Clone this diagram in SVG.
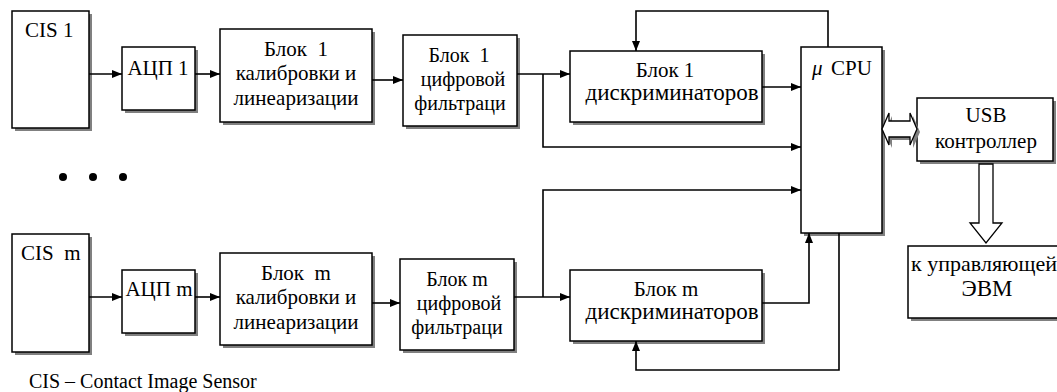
<svg xmlns="http://www.w3.org/2000/svg" width="1057" height="392" viewBox="0 0 1057 392">
<defs>
<style>
.box{fill:#fff;stroke:#000;stroke-width:1.5}
.sh{fill:#808080;stroke:none}
.t{font-family:'Liberation Serif','DejaVu Serif',serif;font-size:21px;fill:#000;white-space:pre}
.c{text-anchor:middle}
.s20{font-size:20px}
.s22{font-size:22px}
.s23{font-size:23px}
.ar{fill:none;stroke:#000;stroke-width:1.6;marker-end:url(#ah)}
.hol{fill:#fff;stroke:#000;stroke-width:1.3}
</style>
<marker id="ah" viewBox="0 0 10 8" refX="10" refY="4" markerWidth="10" markerHeight="8" markerUnits="userSpaceOnUse" orient="auto">
<path d="M0,0 L10,4 L0,8 z" fill="#000"/>
</marker>
</defs>
<rect width="1057" height="392" fill="#fff"/>
<g font-family="Liberation Serif, serif">
<g id="cis1"><rect class="sh" x="15" y="14" width="77" height="117"/><rect class="box" x="12" y="11" width="77" height="117"/><text class="t" x="25" y="37">CIS 1</text></g>
<g id="adc1"><rect class="sh" x="125" y="50" width="73" height="63"/><rect class="box" x="122" y="47" width="73" height="63"/><text class="t c" x="158" y="75">АЦП 1</text></g>
<g id="calib1"><rect class="sh" x="223" y="32" width="152" height="93"/><rect class="box" x="220" y="29" width="152" height="93"/><text class="t c" x="296" y="56">Блок  1</text><text class="t c" x="296" y="80">калибровки и</text><text class="t c" x="296" y="105">линеаризации</text></g>
<g id="filt1"><rect class="sh" x="406" y="38" width="114" height="91"/><rect class="box" x="403" y="35" width="114" height="91"/><text class="t c s20" x="459" y="62">Блок  1</text><text class="t c s20" x="463" y="86">цифровой</text><text class="t c s20" x="460" y="110">фильтраци</text></g>
<g id="disc1"><rect class="sh" x="573" y="54" width="192" height="71"/><rect class="box" x="570" y="51" width="192" height="71"/><text class="t c" x="665" y="77">Блок 1</text><text class="t c s23" x="672" y="100">дискриминаторов</text></g>

<g id="cism"><rect class="sh" x="15" y="237" width="77" height="118"/><rect class="box" x="12" y="234" width="77" height="118"/><text class="t" x="21" y="260">CIS  m</text></g>
<g id="adcm"><rect class="sh" x="125" y="273" width="73" height="63"/><rect class="box" x="122" y="270" width="73" height="63"/><text class="t c" x="159" y="296">АЦП m</text></g>
<g id="calibm"><rect class="sh" x="223" y="256" width="152" height="92"/><rect class="box" x="220" y="253" width="152" height="92"/><text class="t c" x="296" y="280">Блок  m</text><text class="t c" x="296" y="304">калибровки и</text><text class="t c" x="296" y="329">линеаризации</text></g>
<g id="filtm"><rect class="sh" x="403" y="262" width="114" height="91"/><rect class="box" x="400" y="259" width="114" height="91"/><text class="t c s20" x="457" y="286">Блок m</text><text class="t c s20" x="459" y="310">цифровой</text><text class="t c s20" x="457" y="334">фильтраци</text></g>
<g id="discm"><rect class="sh" x="573" y="273" width="192" height="71"/><rect class="box" x="570" y="270" width="192" height="71"/><text class="t c" x="666" y="296">Блок m</text><text class="t c s23" x="672" y="319">дискриминаторов</text></g>

<g id="cpu"><rect class="sh" x="804" y="50" width="81" height="186"/><rect class="box" x="801" y="47" width="81" height="186"/><text class="t" x="812" y="75"><tspan font-style="italic">μ</tspan><tspan x="831">CPU</tspan></text></g>
<g id="usb"><rect class="sh" x="920" y="101" width="136" height="63"/><rect class="box" x="917" y="98" width="136" height="63"/><text class="t c" x="986" y="122">USB</text><text class="t c" x="986" y="148">контроллер</text></g>
<g id="evm"><rect class="sh" x="911" y="249" width="150" height="72"/><rect class="box" x="908" y="246" width="152" height="72"/><text class="t c s22" x="984" y="271">к управляющей</text><text class="t c s23" x="987" y="296">ЭВМ</text></g>

<g id="dots"><circle cx="63" cy="177" r="4"/><circle cx="93" cy="177" r="4"/><circle cx="123" cy="177" r="4"/></g>

<g id="connectors">
<path class="ar" d="M89,74 H122"/>
<path class="ar" d="M195,74 H220"/>
<path class="ar" d="M372,80 H403"/>
<path class="ar" d="M517,74 H570"/>
<path class="ar" d="M543,74 V147 H801"/>
<path class="ar" d="M762,87 H801"/>
<path class="ar" d="M828,47 V11 H636 V51"/>
<path class="ar" d="M89,297 H122"/>
<path class="ar" d="M195,297 H220"/>
<path class="ar" d="M372,303 H400"/>
<path class="ar" d="M514,297 H570"/>
<path class="ar" d="M543,297 V190 H801"/>
<path class="ar" d="M762,303 H809 V233"/>
<path class="ar" d="M839,233 V370 H636 V341"/>
<path class="sh" d="M885,132 L892,116 V124 H913 V116 L920,132 L913,148 V140 H892 V148 z"/>
<path class="hol" d="M882,129 L889,113 V121 H910 V113 L917,129 L910,145 V137 H889 V145 z"/>
<path class="hol" d="M979,164 H993 V223 H1002 L986,243 L970,223 H979 z"/>
</g>

<text class="t s20" x="29" y="388">CIS – Contact Image Sensor</text>
</g>
</svg>
